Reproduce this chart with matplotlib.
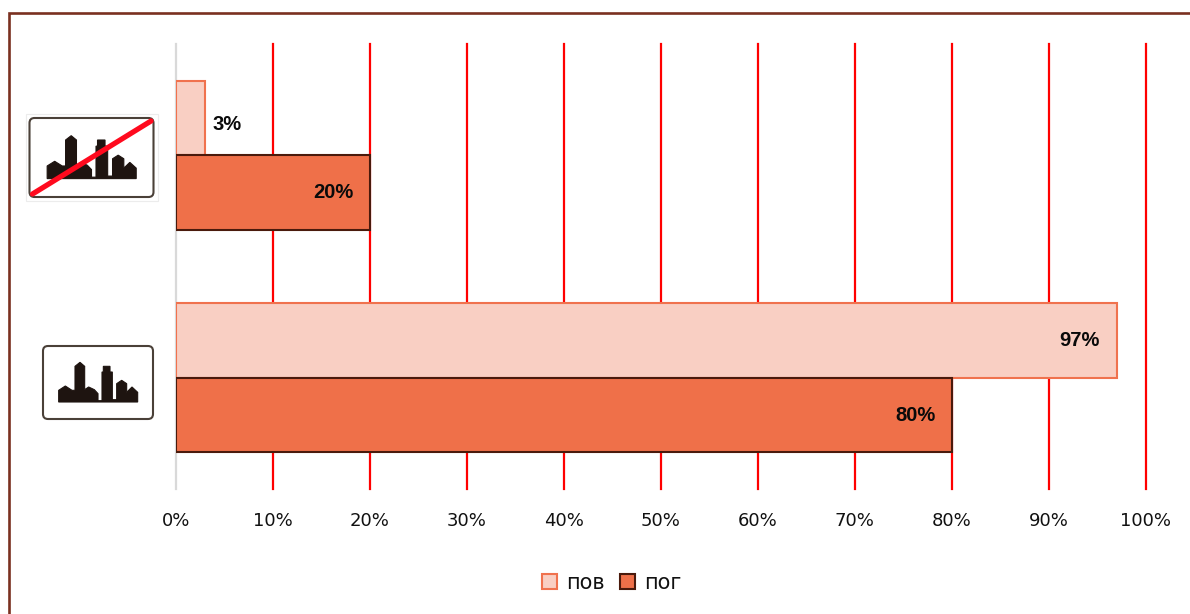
import matplotlib
matplotlib.use("Agg")
import matplotlib.pyplot as plt
from matplotlib.patches import FancyBboxPatch, Polygon, Rectangle, Patch
from matplotlib.lines import Line2D

W, H = 1190, 614
LIGHT, LIGHT_EDGE = "#F9CFC3", "#F0724E"
DARK, DARK_EDGE = "#EF7049", "#4A1A0C"
TEXT = "#111111"

categories = ["settlement", "end of settlement"]
series_names = ["пов", "пог"]
pov_values = [97, 3]
pog_values = [80, 20]
tick_values = [0, 10, 20, 30, 40, 50, 60, 70, 80, 90, 100]
tick_labels = [f"{v}%" for v in tick_values]

# Skyline outline of the road-sign pictogram
skyline = [(115, 215), (115, 180), (135, 167), (155, 180), (164, 180), (164, 108),
           (179, 96), (193, 108), (193, 178), (205, 170), (222, 178), (233, 190),
           (233, 211), (245, 211), (245, 125), (249, 125), (249, 108), (269, 108),
           (269, 125), (276, 125), (276, 208), (289, 208), (289, 160), (304, 150),
           (319, 160), (319, 186), (335, 170), (352, 186), (352, 215)]

fig = plt.figure(figsize=(W / 100, H / 100), dpi=100, facecolor="white")

# Pixel-space overlay for frame and icons
bg = fig.add_axes([0, 0, 1, 1], zorder=0)
bg.set_xlim(0, W)
bg.set_ylim(H, 0)
bg.axis("off")
bg.add_line(Line2D([9, 9, W], [H, 13, 13], color="#7A3020", lw=1.9, solid_joinstyle="miter"))

ax = fig.add_axes([175.8 / W, 1 - 489 / H, 970 / W, 445 / H], zorder=1)
ax.patch.set_alpha(0)
ypos = list(range(len(categories)))
bar_h = 0.335
ax.set_axisbelow(True)
ax.barh([y + bar_h / 2 for y in ypos], pov_values, height=bar_h, color=LIGHT,
        edgecolor=LIGHT_EDGE, linewidth=1.5, zorder=3)
ax.barh([y - bar_h / 2 for y in ypos], pog_values, height=bar_h, color=DARK,
        edgecolor=DARK_EDGE, linewidth=1.5, zorder=3)

ax.set_xlim(0, 100)
ax.set_ylim(-0.5, 1.5)
ax.set_xticks(tick_values)
ax.set_xticklabels(tick_labels, fontsize=13, color=TEXT, family="DejaVu Sans")
ax.set_yticks([])
ax.tick_params(axis="x", length=0, pad=16.5)
for s in ax.spines.values():
    s.set_visible(False)
for v in tick_values:
    ax.axvline(v, color="#D9D9D9" if v == 0 else "#FF0000", lw=1.6, zorder=1, clip_on=False)

label_font = dict(fontsize=14.5, fontweight="bold", family="Liberation Sans", color="#0A0A0A", va="center")
for y, v in zip(ypos, pov_values):
    if v < 10:
        ax.annotate(f"{v}%", (v, y + bar_h / 2), xytext=(5.5, -4.5), textcoords="offset points",
                    ha="left", zorder=5, **label_font)
    else:
        ax.annotate(f"{v}%", (v, y + bar_h / 2), xytext=(-12, 0), textcoords="offset points",
                    ha="right", zorder=5, **label_font)
for y, v in zip(ypos, pog_values):
    ax.annotate(f"{v}%", (v, y - bar_h / 2), xytext=(-12, 0), textcoords="offset points",
                ha="right", zorder=5, **label_font)


def sign(x0, y0, w, h, crossed=False):
    sx = w / 110
    sy = h / 73
    box = FancyBboxPatch((x0 + 3, y0 + 3), w - 6, h - 6, boxstyle="round,pad=3,rounding_size=5",
                         fc="white", ec="#4A4038", lw=1.5, zorder=2)
    bg.add_patch(box)
    pts = [(x0 + (px - 68) / 3 * sx, y0 + (py - 47) / 3 * sy) for px, py in skyline]
    bg.add_patch(Polygon(pts, closed=True, fc="#1E1410", ec="#1E1410", lw=0.8, zorder=3))
    if crossed:
        bg.add_line(Line2D([x0 + 3, x0 + w - 2.5], [y0 + h - 3, y0 + 3], color="#FF0A1E",
                           lw=3.8, solid_capstyle="round", zorder=4))


bg.add_patch(Rectangle((26, 114), 132, 87, fc="white", ec="#ECECEC", lw=0.8, zorder=1))
sign(29.5, 118, 124, 79, crossed=True)
sign(43, 346, 110, 73)

handles = [Patch(fc=LIGHT, ec=LIGHT_EDGE, lw=1.5), Patch(fc=DARK, ec=DARK_EDGE, lw=1.5)]
fig.legend(handles, series_names, loc="center", bbox_to_anchor=(611.5 / W, 1 - 583 / H),
           ncol=2, frameon=False, handlelength=0.72, handleheight=0.72,
           handletextpad=0.42, columnspacing=0.75, labelcolor=TEXT,
           prop={"family": "DejaVu Sans", "size": 15})

fig.savefig("out.png", dpi=100)
